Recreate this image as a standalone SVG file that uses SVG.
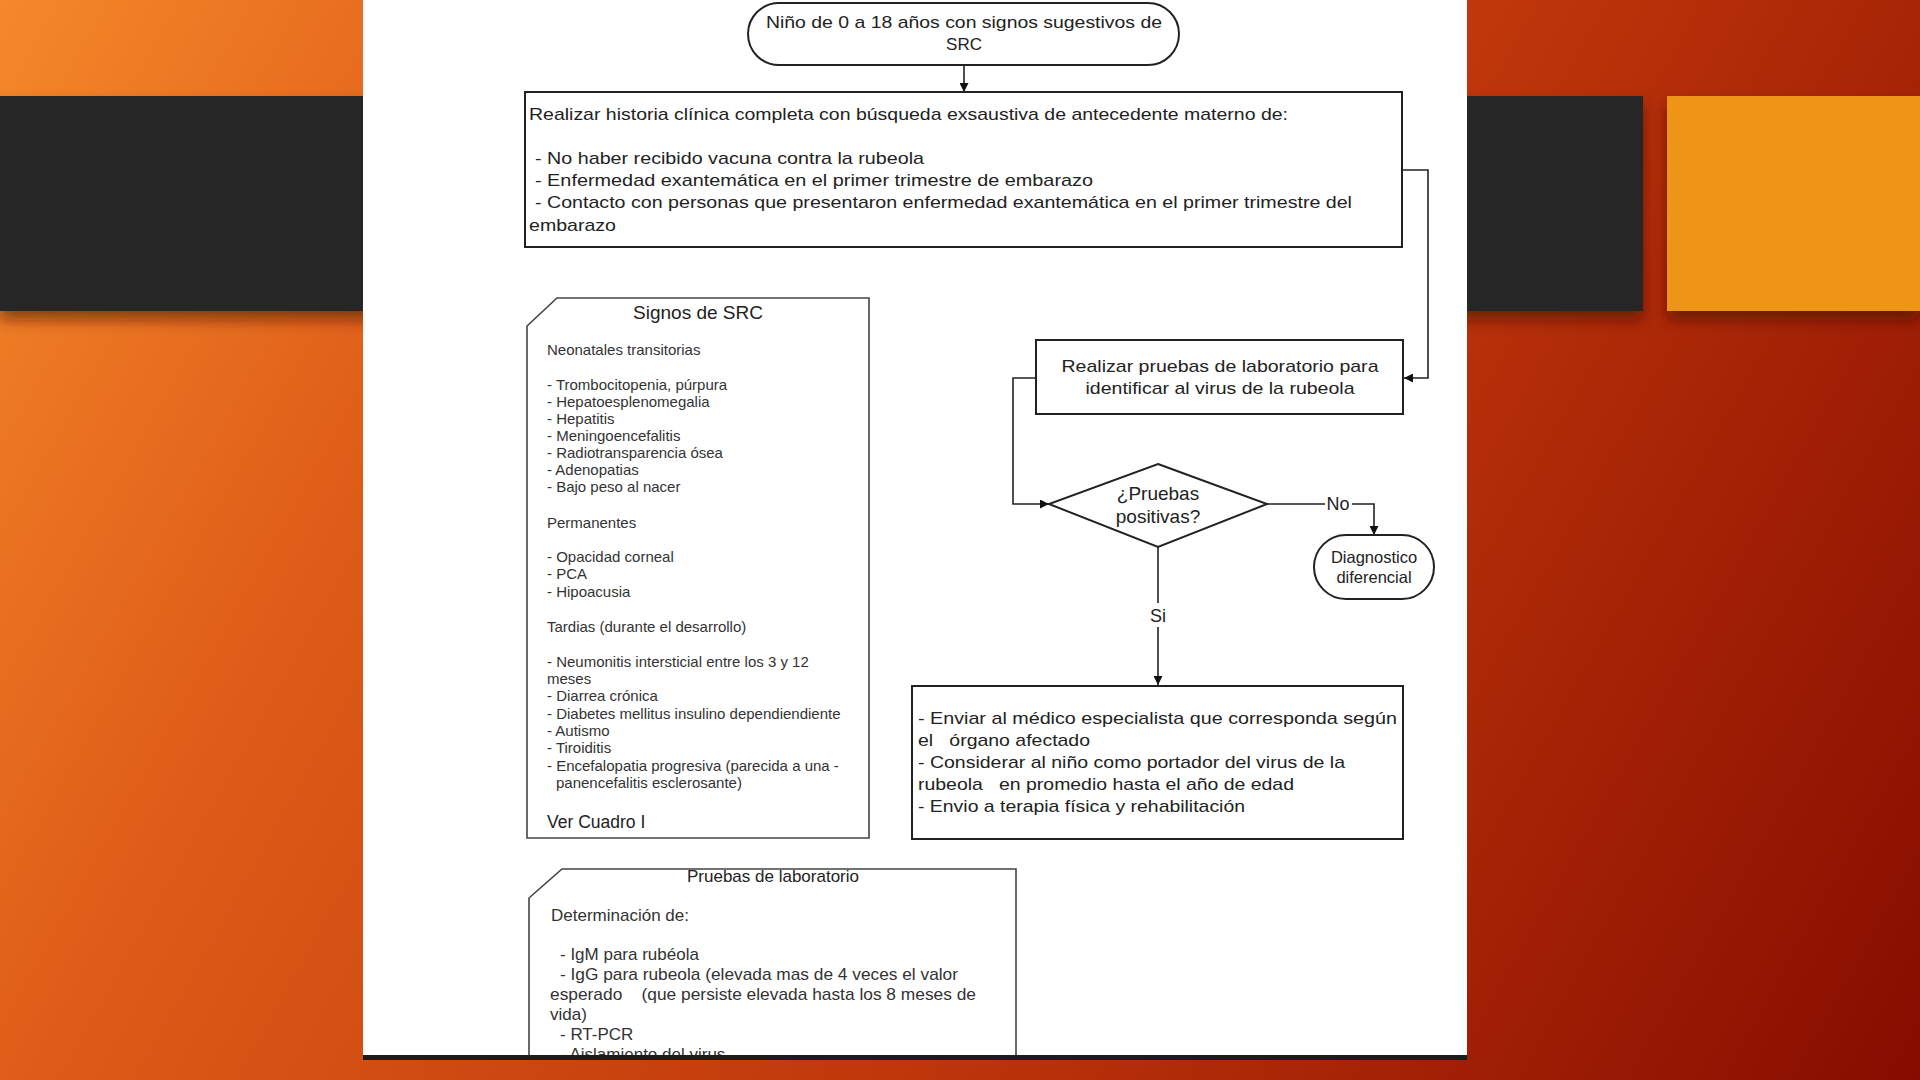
<svg xmlns="http://www.w3.org/2000/svg" width="1920" height="1080" viewBox="0 0 1920 1080">
<defs>
<linearGradient id="bg" x1="0" y1="0" x2="1920" y2="1080" gradientUnits="userSpaceOnUse">
<stop offset="0" stop-color="#F5882A"/>
<stop offset="0.25" stop-color="#DE5C18"/>
<stop offset="0.6" stop-color="#BE360A"/>
<stop offset="1" stop-color="#870C00"/>
</linearGradient>
<filter id="sh" x="-5%" y="-10%" width="110%" height="130%">
<feDropShadow dx="0" dy="9" stdDeviation="7" flood-color="#3a0800" flood-opacity="0.55"/>
</filter>
<marker id="ah" viewBox="0 0 10 10" refX="10" refY="5" markerWidth="9" markerHeight="9" markerUnits="userSpaceOnUse" orient="auto">
<path d="M0,0 L10,5 L0,10 z" fill="#111"/>
</marker>
<clipPath id="panelclip"><rect x="363" y="0" width="1104" height="1055"/></clipPath>
<style>
.t{font-family:"Liberation Sans",Arial,sans-serif;fill:#222}
.box{fill:#fff;stroke:#222;stroke-width:2}
.card{fill:#fff;stroke:#444;stroke-width:1.6}
.con{fill:none;stroke:#222;stroke-width:1.6}
.s17{font-size:17px}
.s13{font-size:15px;fill:#333}
.s16{font-size:17px;fill:#333}
.mid{text-anchor:middle}
</style>
</defs>
<rect x="0" y="0" width="1920" height="1080" fill="url(#bg)"/>
<rect x="0" y="96" width="1643" height="215" fill="#262626" filter="url(#sh)"/>
<rect x="1667" y="96" width="253" height="215" fill="#EE9418" filter="url(#sh)"/>
<rect x="363" y="0" width="1104" height="1055" fill="#fff"/>
<rect x="363" y="1055" width="1104" height="5" fill="#1c1c1c"/>

<g id="connectors">
<line class="con" x1="964" y1="65" x2="964" y2="92" marker-end="url(#ah)"/>
<polyline class="con" points="1402,170 1428,170 1428,378 1404,378" marker-end="url(#ah)"/>
<polyline class="con" points="1036,378 1013,378 1013,504 1049,504" marker-end="url(#ah)"/>
<polyline class="con" points="1267,504 1325,504"/>
<polyline class="con" points="1352,504 1374,504 1374,535" marker-end="url(#ah)"/>
<line class="con" x1="1158" y1="547" x2="1158" y2="603"/>
<line class="con" x1="1158" y1="627" x2="1158" y2="685" marker-end="url(#ah)"/>
<text class="t mid" x="1338" y="510" font-size="18">No</text>
<text class="t mid" x="1158" y="622" font-size="18">Si</text>
</g>

<g id="start">
<rect class="box" x="748" y="3" width="431" height="62" rx="31" ry="31"/>
<text class="t s17 mid" x="964" y="28" textLength="396" lengthAdjust="spacingAndGlyphs">Niño de 0 a 18 años con signos sugestivos de</text>
<text class="t s17 mid" x="964" y="50">SRC</text>
</g>

<g id="historia">
<rect class="box" x="525" y="92" width="877" height="155"/>
<text class="t s17" x="529" y="120" textLength="759" lengthAdjust="spacingAndGlyphs">Realizar historia clínica completa con búsqueda exsaustiva de antecedente materno de:</text>
<text class="t s17" x="535" y="164" textLength="389" lengthAdjust="spacingAndGlyphs">-  No haber recibido vacuna contra la rubeola</text>
<text class="t s17" x="535" y="186" textLength="558" lengthAdjust="spacingAndGlyphs">-  Enfermedad exantemática en el  primer trimestre de embarazo</text>
<text class="t s17" x="535" y="208" textLength="817" lengthAdjust="spacingAndGlyphs">-  Contacto con personas que presentaron enfermedad exantemática en el primer trimestre del</text>
<text class="t s17" x="529" y="231" textLength="87" lengthAdjust="spacingAndGlyphs">embarazo</text>
</g>

<g id="signos">
<path class="card" d="M557,298 L869,298 L869,838 L527,838 L527,326 Z"/>
<text class="t mid" x="698" y="319" font-size="19" fill="#333">Signos de SRC</text>
<text class="t s13" x="547" y="355">Neonatales transitorias</text>
<text class="t s13" x="547" y="390">- Trombocitopenia, púrpura</text>
<text class="t s13" x="547" y="407">- Hepatoesplenomegalia</text>
<text class="t s13" x="547" y="424">- Hepatitis</text>
<text class="t s13" x="547" y="441">- Meningoencefalitis</text>
<text class="t s13" x="547" y="458">- Radiotransparencia ósea</text>
<text class="t s13" x="547" y="475">- Adenopatias</text>
<text class="t s13" x="547" y="492">- Bajo peso al nacer</text>
<text class="t s13" x="547" y="528">Permanentes</text>
<text class="t s13" x="547" y="562">- Opacidad corneal</text>
<text class="t s13" x="547" y="579">- PCA</text>
<text class="t s13" x="547" y="597">- Hipoacusia</text>
<text class="t s13" x="547" y="632">Tardias (durante el desarrollo)</text>
<text class="t s13" x="547" y="667">- Neumonitis intersticial entre los 3 y 12</text>
<text class="t s13" x="547" y="684">meses</text>
<text class="t s13" x="547" y="701">- Diarrea crónica</text>
<text class="t s13" x="547" y="719">- Diabetes mellitus insulino dependiendiente</text>
<text class="t s13" x="547" y="736">- Autismo</text>
<text class="t s13" x="547" y="753">- Tiroiditis</text>
<text class="t s13" x="547" y="771">- Encefalopatia progresiva (parecida a una -</text>
<text class="t s13" x="556" y="788">panencefalitis esclerosante)</text>
<text class="t" x="547" y="828" font-size="17.5" fill="#333">Ver Cuadro I</text>
</g>

<g id="pruebas-lab">
<rect class="box" x="1036" y="340" width="367" height="74"/>
<text class="t s17 mid" x="1220" y="372" textLength="317" lengthAdjust="spacingAndGlyphs">Realizar pruebas de laboratorio para</text>
<text class="t s17 mid" x="1220" y="394" textLength="269" lengthAdjust="spacingAndGlyphs">identificar al virus de la rubeola</text>
</g>

<g id="decision">
<polygon class="box" points="1158,464 1267,504 1158,547 1049,504"/>
<text class="t mid" x="1158" y="500" font-size="19">¿Pruebas</text>
<text class="t mid" x="1158" y="523" font-size="19">positivas?</text>
</g>

<g id="diagnostico">
<rect class="box" x="1314" y="535" width="120" height="64" rx="32" ry="32"/>
<text class="t mid" x="1374" y="563" font-size="16.5" fill="#333">Diagnostico</text>
<text class="t mid" x="1374" y="583" font-size="16.5" fill="#333">diferencial</text>
</g>

<g id="acciones">
<rect class="box" x="912" y="686" width="491" height="153"/>
<text class="t s17" x="918" y="724" textLength="479" lengthAdjust="spacingAndGlyphs">- Enviar  al médico especialista que corresponda según</text>
<text class="t s17" x="918" y="746" xml:space="preserve" textLength="172" lengthAdjust="spacingAndGlyphs">el   órgano afectado</text>
<text class="t s17" x="918" y="768" textLength="427" lengthAdjust="spacingAndGlyphs">- Considerar al niño como portador del virus de la</text>
<text class="t s17" x="918" y="790" xml:space="preserve" textLength="376" lengthAdjust="spacingAndGlyphs">rubeola   en promedio hasta el año de edad</text>
<text class="t s17" x="918" y="812" textLength="327" lengthAdjust="spacingAndGlyphs">- Envio a terapia física y rehabilitación</text>
</g>

<g id="pruebas-laboratorio" clip-path="url(#panelclip)">
<path class="card" d="M562,869 L1016,869 L1016,1070 L529,1070 L529,898 Z"/>
<text class="t mid" x="773" y="882" font-size="17" fill="#333">Pruebas de laboratorio</text>
<text class="t s16" x="551" y="921">Determinación de:</text>
<text class="t s16" x="560" y="960">- IgM para rubéola</text>
<text class="t s16" x="560" y="980" textLength="398" lengthAdjust="spacingAndGlyphs">- IgG para rubeola (elevada mas de 4 veces el valor</text>
<text class="t s16" x="550" y="1000" xml:space="preserve" textLength="426" lengthAdjust="spacingAndGlyphs">esperado    (que persiste elevada hasta los 8 meses de</text>
<text class="t s16" x="550" y="1020">vida)</text>
<text class="t s16" x="560" y="1040">- RT-PCR</text>
<text class="t s16" x="560" y="1060">- Aislamiento del virus</text>
</g>
</svg>
